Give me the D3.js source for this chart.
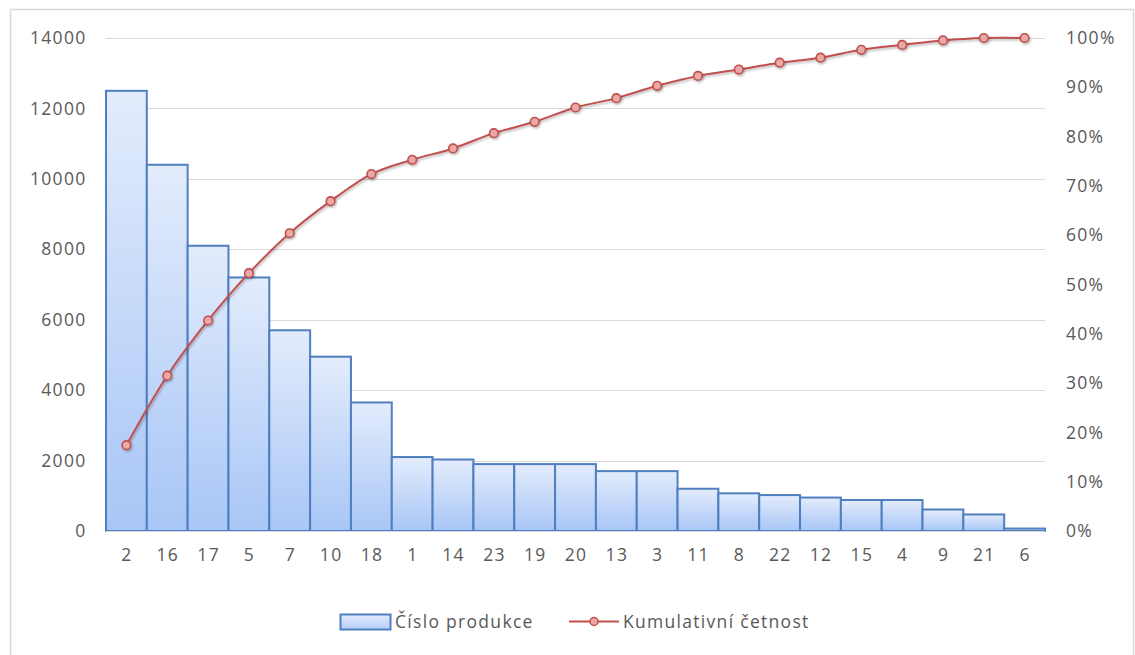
<!DOCTYPE html>
<html>
<head>
<meta charset="utf-8">
<script src="https://cdn.jsdelivr.net/npm/d3@7"></script>
<style>
  html, body { margin: 0; padding: 0; background: #fff; }
  svg { display: block; }
  text { font-family: "Open Sans", "Noto Sans", sans-serif; fill: #595959; }
</style>
</head>
<body>
<svg id="chart" width="1135" height="655"></svg>
<script>
const categories = ["2","16","17","5","7","10","18","1","14","23","19","20","13","3","11","8","22","12","15","4","9","21","6"];
const production = [12500,10400,8100,7200,5700,4950,3650,2100,2030,1900,1900,1900,1700,1700,1200,1070,1020,950,880,880,610,470,70];
const cumulative = [17.4,31.5,42.7,52.3,60.4,66.9,72.4,75.3,77.6,80.7,83.0,85.9,87.8,90.3,92.3,93.6,95.0,96.0,97.6,98.6,99.5,100,100];
const leftTicks = [0,2000,4000,6000,8000,10000,12000,14000];
const rightTicks = [0,10,20,30,40,50,60,70,80,90,100];
const seriesNames = ["Číslo produkce", "Kumulativní četnost"];

const svg = d3.select("#chart");
const plot = {left: 106, right: 1045, top: 38, bottom: 531};
const FS = 17.5, LS = 1.3;

// chart border
svg.append("rect").attr("x", 10.5).attr("y", 9.5).attr("width", 1123).attr("height", 660)
  .attr("fill", "#fff").attr("stroke", "#d9d9d9").attr("stroke-width", 1.5);

const defs = svg.append("defs");
const grad = defs.append("linearGradient").attr("id", "barGrad")
  .attr("x1", 0).attr("y1", 0).attr("x2", 0).attr("y2", 1);
grad.append("stop").attr("offset", "0%").attr("stop-color", "#e3ecfc");
grad.append("stop").attr("offset", "100%").attr("stop-color", "#a8c6f6");
const lgrad = defs.append("linearGradient").attr("id", "legGrad")
  .attr("x1", 0).attr("y1", 0).attr("x2", 0).attr("y2", 1);
lgrad.append("stop").attr("offset", "0%").attr("stop-color", "#e3ecfc");
lgrad.append("stop").attr("offset", "100%").attr("stop-color", "#b3cdf6");
const shadow = defs.append("filter").attr("id", "shadow").attr("x", "-50%").attr("y", "-50%").attr("width", "200%").attr("height", "200%");
shadow.append("feDropShadow").attr("dx", 1).attr("dy", 1.5).attr("stdDeviation", 1.2).attr("flood-color", "#000").attr("flood-opacity", 0.3);

const x = d3.scaleBand().domain(categories).range([plot.left, plot.right]).padding(0);
const yL = d3.scaleLinear().domain([0, 14000]).range([plot.bottom, plot.top]);
const yR = d3.scaleLinear().domain([0, 100]).range([plot.bottom, plot.top]);

// gridlines
svg.append("g").selectAll("line").data(leftTicks).join("line")
  .attr("x1", plot.left).attr("x2", plot.right)
  .attr("y1", d => Math.round(yL(d)) + 0.5).attr("y2", d => Math.round(yL(d)) + 0.5)
  .attr("stroke", "#d9d9d9").attr("stroke-width", 1.2);

function styleText(g) {
  g.selectAll("text").attr("font-size", FS).attr("fill", "#595959")
    .attr("font-family", "Open Sans").attr("letter-spacing", LS);
}

// left axis labels
const leftAxis = d3.axisLeft(yL).tickValues(leftTicks).tickSize(0).tickPadding(0).tickFormat(d3.format("d"));
const gL = svg.append("g").attr("transform", `translate(86.5,0)`).call(leftAxis);
gL.select(".domain").remove();
styleText(gL);

// right axis labels
const rightAxis = d3.axisRight(yR).tickValues(rightTicks).tickSize(0).tickPadding(0).tickFormat(d => d + "%");
const gR = svg.append("g").attr("transform", `translate(1066,0)`).call(rightAxis);
gR.select(".domain").remove();
styleText(gR);

// bars
svg.append("g").selectAll("rect").data(production).join("rect")
  .attr("x", (d, i) => x(categories[i]))
  .attr("y", d => yL(d))
  .attr("width", x.bandwidth())
  .attr("height", d => yL(0) - yL(d))
  .attr("fill", "url(#barGrad)")
  .attr("stroke", "#4f7fbf").attr("stroke-width", 2);

// x axis line
svg.append("line").attr("x1", plot.left).attr("x2", plot.right)
  .attr("y1", plot.bottom + 0.5).attr("y2", plot.bottom + 0.5)
  .attr("stroke", "#d9d9d9").attr("stroke-width", 1.2);

// x labels
const bottomAxis = d3.axisBottom(x).tickSize(0).tickPadding(0);
const gB = svg.append("g").attr("transform", `translate(0.6,549)`).call(bottomAxis);
gB.select(".domain").remove();
styleText(gB);

// cumulative line
const cx = (d, i) => x(categories[i]) + x.bandwidth() / 2;
const line = d3.line().x(cx).y(d => yR(d)).curve(d3.curveCatmullRom.alpha(0.5));
svg.append("path").datum(cumulative).attr("d", line)
  .attr("fill", "none").attr("stroke", "#c0504d").attr("stroke-width", 2)
  .attr("filter", "url(#shadow)");
svg.append("g").selectAll("circle").data(cumulative).join("circle")
  .attr("cx", cx).attr("cy", d => yR(d)).attr("r", 4.3)
  .attr("fill", "#eaa9a7").attr("stroke", "#c0504d").attr("stroke-width", 1.6)
  .attr("filter", "url(#shadow)");

// legend
const leg = svg.append("g");
leg.append("rect").attr("x", 340.5).attr("y", 614.5).attr("width", 50).attr("height", 15)
  .attr("fill", "url(#legGrad)").attr("stroke", "#4f7fbf").attr("stroke-width", 2);
leg.append("text").attr("x", 395).attr("y", 628).attr("font-size", FS).attr("letter-spacing", LS).text(seriesNames[0]);
leg.append("line").attr("x1", 569).attr("x2", 619).attr("y1", 621.5).attr("y2", 621.5)
  .attr("stroke", "#c0504d").attr("stroke-width", 2);
leg.append("circle").attr("cx", 594).attr("cy", 621.5).attr("r", 4)
  .attr("fill", "#eaa9a7").attr("stroke", "#c0504d").attr("stroke-width", 1.5);
leg.append("text").attr("x", 623).attr("y", 628).attr("font-size", FS).attr("letter-spacing", LS).text(seriesNames[1]);
</script>
</body>
</html>
